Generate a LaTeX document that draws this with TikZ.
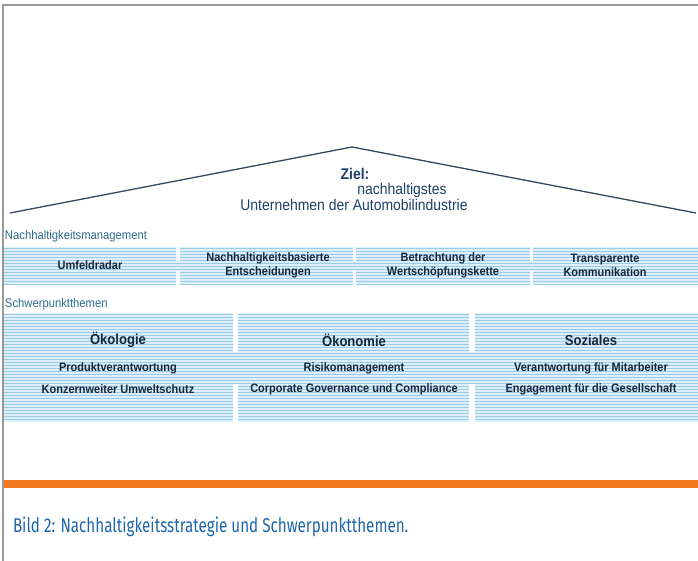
\documentclass[tikz,border=0pt]{standalone}
\usepackage{fontspec}
\setmainfont{Liberation Sans}
\newfontfamily\dfont[FakeStretch=0.9]{Liberation Sans}
\newfontfamily\capfont[FakeStretch=0.76]{Fira Sans}
\definecolor{navy}{HTML}{18263D}
\definecolor{lblc}{HTML}{2F6B8C}
\definecolor{roofc}{HTML}{34485E}
\definecolor{roofText}{HTML}{1F3F66}
\definecolor{orangeb}{HTML}{F47A20}
\definecolor{capc}{HTML}{1F66AB}
\definecolor{borderc}{HTML}{9A9A9A}
\definecolor{bandbg}{HTML}{DDEFFA}
\definecolor{stripec}{HTML}{9CCBE9}
\begin{document}
\begin{tikzpicture}[x=1pt,y=-1pt,
  every node/.style={inner sep=0pt, outer sep=0pt},
  border/.style={draw=borderc, line width=1.3pt},
  roofline/.style={draw=roofc, line width=1.3pt},
  rooftxt/.style={text=roofText, font=\dfont\fontsize{15.5}{17}\selectfont},
  seclabel/.style={anchor=west, text=lblc, font=\dfont\fontsize{12.5}{14}\selectfont},
  boxtxt/.style={text=navy, align=center, font=\dfont\bfseries\fontsize{12.2}{14}\selectfont},
  headtxt/.style={text=navy, font=\dfont\bfseries\fontsize{14.5}{16}\selectfont},
  stripe/.style={draw=stripec, line width=1.4pt},
  gapfill/.style={fill=white}
]
\useasboundingbox (0,0) rectangle (698,561);
\fill[white] (0,0) rectangle (698,561);
\draw[border] (3,561) -- (3,5) -- (698,5);

% roof
\coordinate (rl) at (10,213);
\coordinate (rp) at (352,147);
\coordinate (rr) at (696,213);
\draw[roofline] (rl) -- (rp) -- (rr);
\node[rooftxt, font=\dfont\bfseries\fontsize{15.5}{17}\selectfont] (ziel) at (355,174) {Ziel:};
\node[rooftxt] (nach) at (402,190) {nachhaltigstes};
\node[rooftxt] (unter) at (354,205) {Unternehmen der Automobilindustrie};

% band 1
\node[seclabel] (nm) at (5,236) {Nachhaltigkeitsmanagement};
\fill[bandbg] (4,247) rectangle (698,285);
\foreach \y in {248.5,251.5,...,284.5} \draw[stripe] (4,\y) -- (698,\y);
\foreach \x/\w in {176/4,353/3,530/3}{
  \fill[gapfill] (\x,247) rectangle ++(\w,14);
  \fill[gapfill] (\x,271) rectangle ++(\w,14);
}
\node[boxtxt] (b1) at (90,265) {Umfeldradar};
\node[boxtxt] (b2) at (268,265) {Nachhaltigkeitsbasierte\\Entscheidungen};
\node[boxtxt] (b3) at (443,265) {Betrachtung der\\Wertschöpfungskette};
\node[boxtxt] (b4) at (605,265) {Transparente\\Kommunikation};

% band 2
\node[seclabel] (st) at (5,304) {Schwerpunktthemen};
\fill[bandbg] (4,313) rectangle (698,422);
\foreach \y in {314.5,317.5,...,421.5} \draw[stripe] (4,\y) -- (698,\y);
\foreach \x/\w in {233/5,469/6}{
  \fill[gapfill] (\x,313) rectangle ++(\w,39);
  \fill[gapfill] (\x,384) rectangle ++(\w,38);
}
\node[headtxt] (h1) at (118,340) {Ökologie};
\node[headtxt] (h2) at (354,340) {Ökonomie};
\node[headtxt] (h3) at (591,340) {Soziales};
\node[boxtxt] (r11) at (118,368) {Produktverantwortung};
\node[boxtxt] (r12) at (118,389) {Konzernweiter Umweltschutz};
\node[boxtxt] (r21) at (354,368) {Risikomanagement};
\node[boxtxt] (r22) at (354,389) {Corporate Governance und Compliance};
\node[boxtxt] (r31) at (591,368) {Verantwortung für Mitarbeiter};
\node[boxtxt] (r32) at (591,389) {Engagement für die Gesellschaft};

% orange bar and caption
\fill[orangeb] (4,480) rectangle (698,488);
\node[anchor=base west, text=capc, font=\capfont\fontsize{20}{22}\selectfont] (cap) at (13,532) {Bild 2: Nachhaltigkeitsstrategie und Schwerpunktthemen.};
\end{tikzpicture}
\end{document}
